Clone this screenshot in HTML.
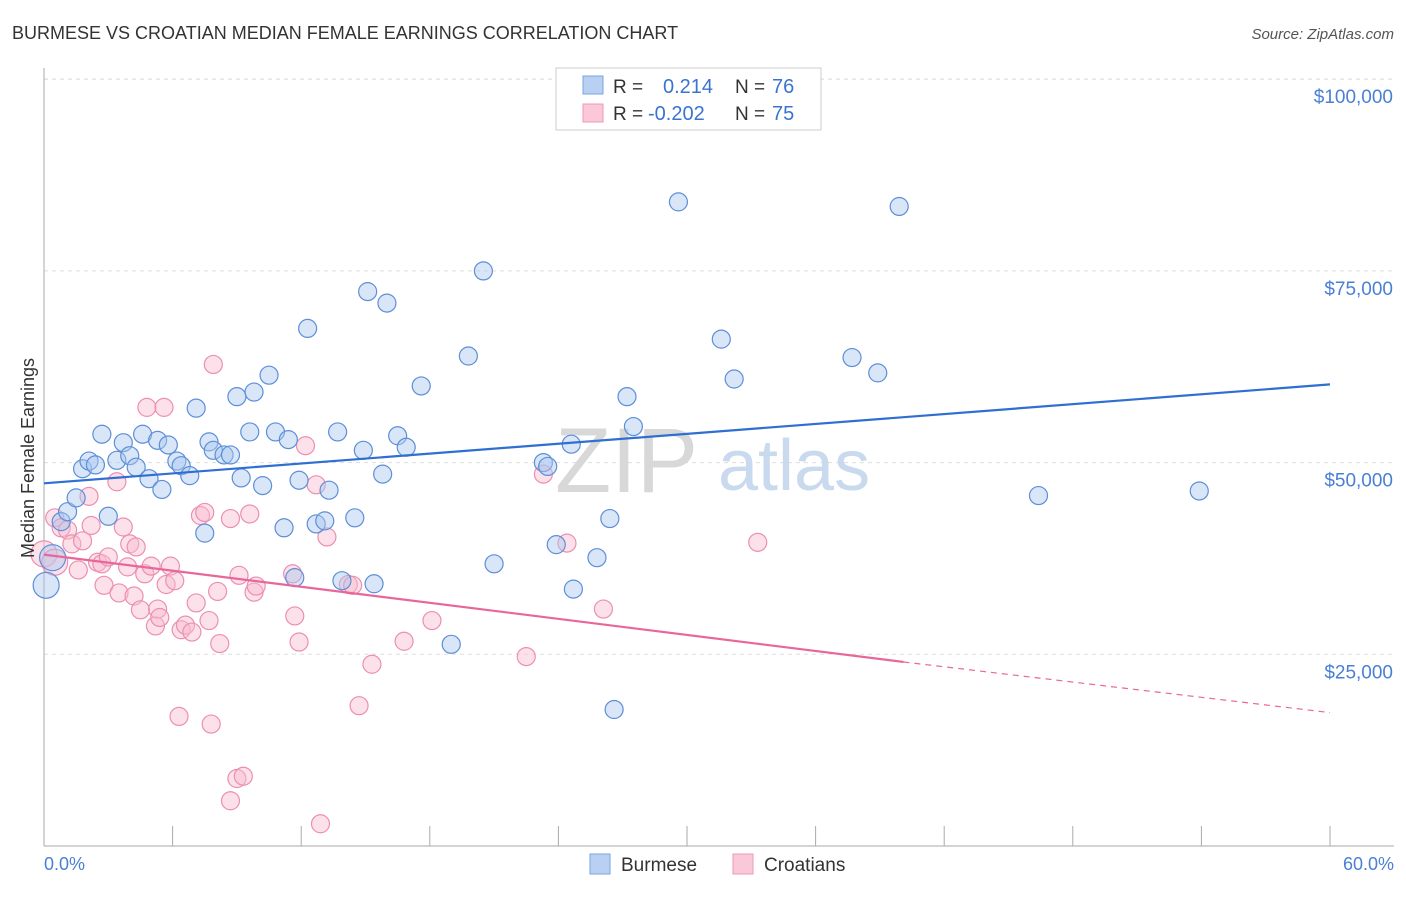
<!DOCTYPE html>
<html><head><meta charset="utf-8"><style>
body{margin:0;background:#fff;font-family:"Liberation Sans",sans-serif;}
svg text{font-family:"Liberation Sans",sans-serif;}
</style></head><body>
<svg width="1406" height="892" xmlns="http://www.w3.org/2000/svg">
<text x="12" y="39" font-size="18" fill="#333">BURMESE VS CROATIAN MEDIAN FEMALE EARNINGS CORRELATION CHART</text>
<text x="1394" y="39" font-size="15" fill="#555" font-style="italic" text-anchor="end">Source: ZipAtlas.com</text>
<g id="grid"></g>
<g id="axes"></g>
<text x="555" y="492" font-size="92" fill="#d8d8d8" font-family="Liberation Serif">ZIP</text>
<text x="718" y="490" font-size="72" fill="#c9d9ee">atlas</text>
<g id="pts"></g>
<g id="lines"></g>
<text x="34" y="458" font-size="18" fill="#333" transform="rotate(-90 34 458)" text-anchor="middle">Median Female Earnings</text>
<text x="44" y="870" font-size="18" fill="#4a7fd4">0.0%</text>
<text x="1394" y="870" font-size="18" fill="#4a7fd4" text-anchor="end">60.0%</text>
<g>
<rect x="556" y="68" width="265" height="62" fill="#fff" stroke="#ccc"/>
<rect x="583" y="76" width="20" height="18" fill="#b8d1f3" stroke="#7aa3e0"/>
<rect x="583" y="104" width="20" height="18" fill="#fac8d8" stroke="#ec9ab5"/>
<text x="613" y="93" font-size="19" fill="#333">R =</text>
<text x="663" y="93" font-size="20" fill="#3b73d0">0.214</text>
<text x="735" y="93" font-size="19" fill="#333">N =</text>
<text x="772" y="93" font-size="20" fill="#3b73d0">76</text>
<text x="613" y="120" font-size="19" fill="#333">R =</text>
<text x="648" y="120" font-size="20" fill="#3b73d0">-0.202</text>
<text x="735" y="120" font-size="19" fill="#333">N =</text>
<text x="772" y="120" font-size="20" fill="#3b73d0">75</text>
</g>
<g>
<rect x="590" y="854" width="20" height="20" fill="#b8d1f3" stroke="#7aa3e0"/>
<text x="621" y="871" font-size="19" fill="#333">Burmese</text>
<rect x="733" y="854" width="20" height="20" fill="#fac8d8" stroke="#ec9ab5"/>
<text x="764" y="871" font-size="19" fill="#333">Croatians</text>
</g>
</svg>
<script>
const yTicks=[25000,50000,75000,100000];
const yTickLabels=["$25,000","$50,000","$75,000","$100,000"];
const xTicks=[0,6,12,18,24,30,36,42,48,54,60];
const burmeseX=[0.1,0.4,0.8,1.1,1.5,1.8,2.1,2.4,2.7,3.0,3.4,3.7,4.0,4.3,4.6,4.9,5.3,5.5,5.8,6.2,6.4,6.8,7.1,7.5,7.7,7.9,8.4,8.7,9.0,9.2,9.6,9.8,10.2,10.5,10.8,11.2,11.4,11.7,11.9,12.3,12.7,13.1,13.3,13.7,13.9,14.5,14.9,15.1,15.4,15.8,16.0,16.5,16.9,17.6,19.0,19.8,20.5,21.0,23.3,23.5,23.9,24.6,24.7,25.8,26.4,26.6,27.2,27.5,29.6,31.6,32.2,37.7,38.9,39.9,46.4,53.9];
const burmeseY=[34000,37600,42300,43600,45400,49200,50200,49700,53700,43000,50300,52600,50900,49400,53700,47900,52900,46500,52300,50200,49600,48300,57100,40800,52700,51600,51000,51000,58600,48000,54000,59200,47000,61400,54000,41500,53000,35000,47700,67500,42000,42400,46400,54000,34600,42800,51600,72300,34200,48500,70800,53500,52000,60000,26300,63900,75000,36800,50000,49500,39300,52400,33500,37600,42700,17800,58600,54700,84000,66100,60900,63700,61700,83400,45700,46300];
const croatiaX=[0.0,0.5,0.5,0.8,1.1,1.3,1.6,1.8,2.1,2.2,2.5,2.7,2.8,3.0,3.4,3.5,3.7,3.9,4.0,4.2,4.3,4.5,4.7,4.8,5.0,5.2,5.3,5.4,5.6,5.7,5.9,6.1,6.3,6.4,6.6,6.9,7.1,7.3,7.5,7.7,7.8,7.9,8.1,8.2,8.7,8.7,9.0,9.1,9.3,9.6,9.8,9.9,11.6,11.7,11.9,12.2,12.7,12.9,13.2,14.2,14.4,14.7,15.3,16.8,18.1,22.5,23.3,24.4,26.1,33.3];
const croatiaY=[38100,37000,42800,41500,41200,39400,36000,39800,45600,41800,37000,36800,34000,37700,47500,33000,41600,36400,39400,32600,39000,30800,35500,57200,36500,28700,30900,29800,57200,34100,36500,34600,16900,28200,28800,27900,31700,43100,43500,29400,15900,62800,33200,26400,5900,42700,8800,35300,9100,43300,33100,33900,35500,30000,26600,52200,47100,2900,40300,34100,34000,18300,23700,26700,29400,24700,48500,39500,30900,39600];
const X0=44,X1=1330,YB=846,PX=191.7/25000;
const sx=v=>X0+(v/60)*(X1-X0), sy=v=>YB-v*PX;
const NS="http://www.w3.org/2000/svg";
function mk(tag,attrs,parent){const e=document.createElementNS(NS,tag);for(const k in attrs)e.setAttribute(k,attrs[k]);parent.appendChild(e);return e;}
const grid=document.getElementById('grid'),axes=document.getElementById('axes'),pts=document.getElementById('pts'),lines=document.getElementById('lines');
yTicks.forEach((t,i)=>{
 const l=mk('line',{x1:X0,x2:1394,y1:sy(t),y2:sy(t),stroke:'#ddd','stroke-dasharray':'4,4'},grid);
 
 
 const tx=mk('text',{x:1393,y:sy(t)+24,'font-size':19,fill:'#4a7fd4','text-anchor':'end'},grid);
 tx.textContent=yTickLabels[i];
 
 
});
const topLine=mk('line',{x1:X0,x2:1394,y1:79,y2:79,stroke:'#ddd','stroke-dasharray':'4,4'},grid);


const ya=mk('line',{x1:X0,x2:X0,y1:68,y2:YB,stroke:'#aaa'},axes);


const xa=mk('line',{x1:X0,x2:1394,y1:YB,y2:YB,stroke:'#aaa'},axes);


xTicks.forEach(t=>{
 const l=mk('line',{x1:sx(t),x2:sx(t),y1:YB,y2:YB-20,stroke:'#aaa'},axes);
 
 
});
function dots(xs,ys,fill,stroke,name){
 xs.forEach((x,i)=>{
  if(ys[i]===undefined)return;
  const r=i<2&&x<1?13:9;
  const c=mk('circle',{cx:sx(x),cy:sy(ys[i]),r:r,fill:fill,'fill-opacity':0.45,stroke:stroke,'stroke-width':1.2},pts);
  
  
 });
}
dots(croatiaX,croatiaY,'#f9bcd0','#ec8fb0','croatian-point');
dots(burmeseX,burmeseY,'#a9c8f0','#5d8ed8','burmese-point');
const bl=mk('line',{x1:sx(0),y1:sy(47300),x2:sx(60),y2:sy(60200),stroke:'#2f6fd3','stroke-width':2.2},lines);


const pl=mk('line',{x1:sx(0),y1:sy(38000),x2:sx(40.1),y2:sy(24000),stroke:'#e8679a','stroke-width':2.2},lines);


const pd=mk('line',{x1:sx(40.1),y1:sy(24000),x2:sx(60),y2:sy(17400),stroke:'#e8679a','stroke-width':1.2,'stroke-dasharray':'6,5'},lines);


</script>
</body></html>
